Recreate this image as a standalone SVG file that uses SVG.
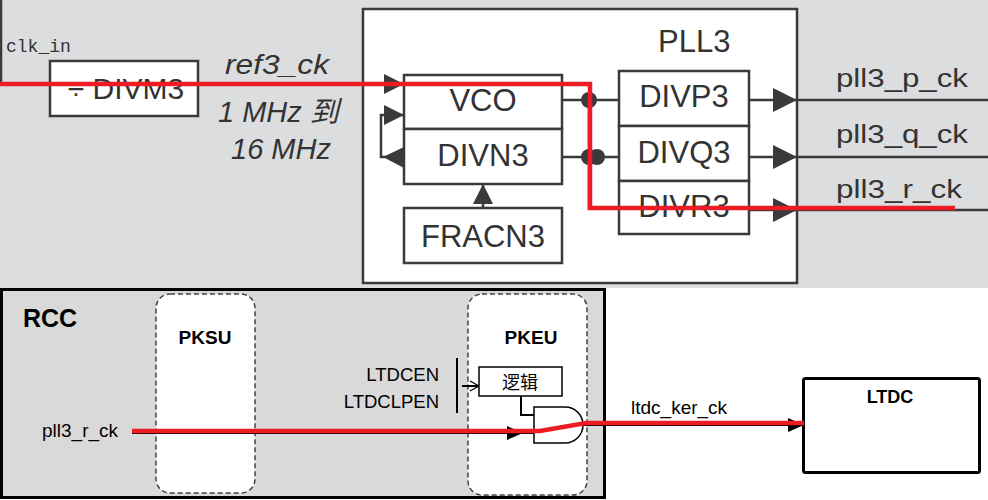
<svg xmlns="http://www.w3.org/2000/svg" width="988" height="500" viewBox="0 0 988 500">
<style>
.box{fill:#fff;stroke:#3a3a3a;stroke-width:2.5}
.w{fill:none;stroke:#3a3a3a;stroke-width:2.5}
.wb{fill:none;stroke:#000;stroke-width:2}
.red{fill:none;stroke:#ed1c24;stroke-width:4.5}
.t{font-family:"Liberation Sans",Arial,sans-serif;fill:#333}
.tb{font-family:"Liberation Sans",Arial,sans-serif;fill:#000}
.dash{fill:#fff;stroke:#444;stroke-width:1.5;stroke-dasharray:5 3}
</style>
<defs>
<marker id="tri" viewBox="0 0 20 20" refX="20" refY="10" markerWidth="20" markerHeight="20" markerUnits="userSpaceOnUse" orient="auto"><path d="M0,0 L20,10 L0,20 z" fill="#3a3a3a"/></marker>
<marker id="triL" viewBox="0 0 24 24" refX="24" refY="12" markerWidth="24" markerHeight="24" markerUnits="userSpaceOnUse" orient="auto"><path d="M0,0 L24,12 L0,24 z" fill="#3a3a3a"/></marker>
<marker id="triS" viewBox="0 0 16 14" refX="16" refY="7" markerWidth="16" markerHeight="14" markerUnits="userSpaceOnUse" orient="auto"><path d="M0,0 L16,7 L0,14 z" fill="#000"/></marker>
<marker id="open" viewBox="0 0 10 12" refX="10" refY="6" markerWidth="10" markerHeight="12" markerUnits="userSpaceOnUse" orient="auto"><path d="M1,1 L10,6 L1,11" fill="none" stroke="#000" stroke-width="1.3"/></marker>
</defs>
<rect x="0" y="0" width="988" height="288" fill="#dcdddf"/>
<rect x="0" y="288" width="988" height="212" fill="#fff"/>
<text class="t" x="6" y="52" style="font-family:'Liberation Mono',monospace;font-size:18px">clk_in</text>
<g id="divm3"><rect class="box" x="50" y="61" width="148" height="55"/><text class="t" x="126" y="99" font-size="30" text-anchor="middle">÷ DIVM3</text></g>
<text class="t" x="225" y="74" font-size="28" font-style="italic" textLength="104" lengthAdjust="spacingAndGlyphs">ref3_ck</text>
<text class="t" x="218" y="122" font-size="29" font-style="italic" style="font-family:'Liberation Sans','Noto Sans CJK SC',sans-serif">1 MHz 到</text>
<text class="t" x="231" y="159" font-size="29" font-style="italic">16 MHz</text>
<g id="pll3"><rect class="box" x="363" y="9" width="434" height="274"/><text class="t" x="658" y="52" font-size="31">PLL3</text></g>
<g id="vco"><rect class="box" x="404" y="75" width="158" height="54"/><text class="t" x="483" y="111" font-size="31" text-anchor="middle">VCO</text></g>
<g id="divn3"><rect class="box" x="404" y="129" width="158" height="55"/><text class="t" x="483" y="166" font-size="31" text-anchor="middle">DIVN3</text></g>
<g id="fracn3"><rect class="box" x="404" y="208" width="158" height="55"/><text class="t" x="483" y="247" font-size="31" text-anchor="middle">FRACN3</text></g>
<g id="divp3"><rect class="box" x="619" y="71" width="130" height="55"/><text class="t" x="684" y="107" font-size="31" text-anchor="middle">DIVP3</text></g>
<g id="divq3"><rect class="box" x="619" y="126" width="130" height="55"/><text class="t" x="684" y="163" font-size="31" text-anchor="middle">DIVQ3</text></g>
<g id="divr3"><rect class="box" x="619" y="181" width="130" height="53"/><text class="t" x="684" y="217" font-size="31" text-anchor="middle">DIVR3</text></g>
<text class="t" x="836" y="87" font-size="25" textLength="132" lengthAdjust="spacingAndGlyphs">pll3_p_ck</text>
<text class="t" x="836" y="143" font-size="25" textLength="132" lengthAdjust="spacingAndGlyphs">pll3_q_ck</text>
<text class="t" x="836" y="198" font-size="25" textLength="126" lengthAdjust="spacingAndGlyphs">pll3_r_ck</text>
<g id="rcc"><rect x="1.5" y="289.5" width="603" height="208" fill="#d9d9d9" stroke="#000" stroke-width="3"/><text class="tb" x="23" y="327" font-size="25" font-weight="bold">RCC</text></g>
<g id="pksu"><rect class="dash" x="156" y="294" width="99" height="199" rx="14"/><text class="tb" x="205" y="344" font-size="19" font-weight="bold" text-anchor="middle">PKSU</text></g>
<g id="pkeu"><rect class="dash" x="468" y="294" width="119" height="201" rx="14"/><text class="tb" x="531" y="344" font-size="19" font-weight="bold" text-anchor="middle">PKEU</text></g>
<text class="tb" x="42" y="437" font-size="19">pll3_r_ck</text>
<text class="tb" x="439" y="381" font-size="18.5" text-anchor="end">LTDCEN</text>
<text class="tb" x="439" y="408" font-size="18.5" text-anchor="end">LTDCLPEN</text>
<g id="logic"><rect x="479" y="367" width="83" height="29" fill="#fff" stroke="#000" stroke-width="1.5"/><text class="tb" x="520" y="389" font-size="18" text-anchor="middle" style="font-family:'Noto Sans CJK SC',sans-serif">逻辑</text></g>
<g id="and"><path d="M534,407 H565 A18,18 0 0 1 565,443 H534 Z" fill="#fff" stroke="#000" stroke-width="1.5"/></g>
<text class="tb" x="631" y="414" font-size="19">ltdc_ker_ck</text>
<g id="ltdc"><rect x="803.5" y="378.5" width="176" height="94" rx="2" fill="#fff" stroke="#000" stroke-width="3"/><text class="tb" x="890" y="403" font-size="18" font-weight="bold" text-anchor="middle">LTDC</text></g>
<g id="connectors">
<path class="w" d="M1,0 V84 H50"/>
<path class="w" d="M198,84 H404" marker-end="url(#tri)"/>
<path class="w" d="M404,157 H381 V115 H404" marker-end="url(#tri)"/>
<polygon points="383,157 404,147 404,168" fill="#3a3a3a"/>
<path class="w" d="M483,208 V184" marker-end="url(#tri)"/>
<path class="w" d="M562,100 H619"/>
<path class="w" d="M562,157 H619"/>
<path class="w" d="M589,100 V208 H619"/>
<circle cx="589" cy="100" r="8" fill="#3a3a3a"/>
<circle cx="589" cy="157" r="8" fill="#3a3a3a"/>
<circle cx="597" cy="157" r="8" fill="#3a3a3a"/>
<path class="w" d="M749,100 H797" marker-end="url(#triL)"/>
<path class="w" d="M749,157 H797" marker-end="url(#triL)"/>
<path class="w" d="M749,210 H797" marker-end="url(#triL)"/>
<path class="w" d="M797,100 H988 M797,157 H988 M797,210 H988"/>
<path class="wb" d="M132,433 H523" marker-end="url(#triS)"/>
<path class="wb" d="M523,433 H534"/>
<path class="wb" d="M457,358 V413" stroke-width="1.5"/>
<path class="wb" d="M462,386 H479" stroke-width="1.3" marker-end="url(#open)"/>
<path class="wb" d="M521,396 V415 H534" stroke-width="1.5"/>
<path class="wb" d="M583,425 H804" marker-end="url(#triS)"/>
<path class="red" d="M0,84 H590 V208 H955"/>
<path class="red" d="M132,431 H540 L586,423 H804"/>
</g>
</svg>
